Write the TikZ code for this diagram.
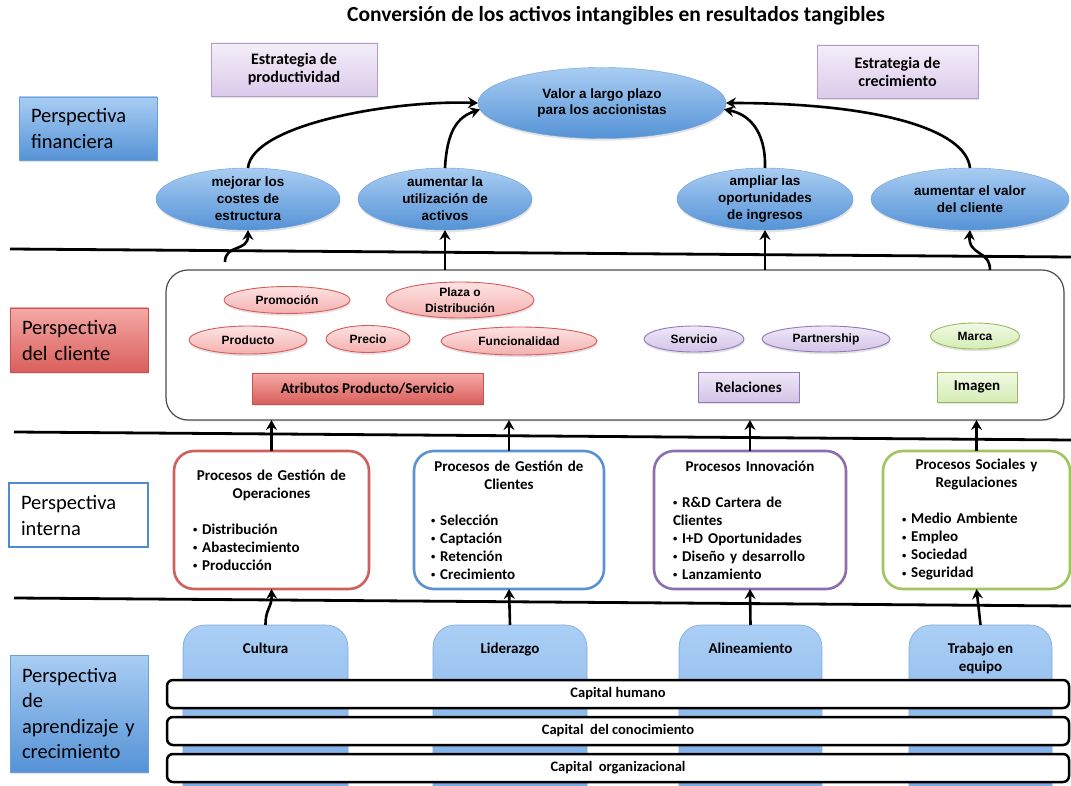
\documentclass[tikz,border=0pt]{standalone}
\usepackage{fontspec}
\setmainfont{Carlito}
\newfontfamily\arialfont{Liberation Sans}
\usetikzlibrary{shapes.geometric,arrows.meta,shadows}

\definecolor{ellTop}{HTML}{A9CDF3}
\definecolor{ellBot}{HTML}{5593D6}
\definecolor{ellLine}{HTML}{6C9FD8}
\definecolor{redTop}{HTML}{F5A9A6}
\definecolor{redBot}{HTML}{D95F5B}
\definecolor{redLine}{HTML}{C9514D}
\definecolor{pinkTop}{HTML}{FDE2E2}
\definecolor{pinkBot}{HTML}{F4B1B0}
\definecolor{pinkLine}{HTML}{D65C59}
\definecolor{violTop}{HTML}{EFE8F7}
\definecolor{violBot}{HTML}{D3C3E7}
\definecolor{violLine}{HTML}{9279B8}
\definecolor{grnTop}{HTML}{F1F9E6}
\definecolor{grnBot}{HTML}{D4EDB3}
\definecolor{grnLine}{HTML}{9BBB59}
\definecolor{stratTop}{HTML}{F4EEF9}
\definecolor{stratBot}{HTML}{DBCAEA}
\definecolor{stratLine}{HTML}{B39BCB}
\definecolor{procRed}{HTML}{D0605C}
\definecolor{procBlue}{HTML}{5B93D2}
\definecolor{procViol}{HTML}{8C6DB0}
\definecolor{procGrn}{HTML}{9FC55F}
\definecolor{learnTop}{HTML}{ABCFF5}
\definecolor{learnBot}{HTML}{6EA4E1}
\definecolor{learnLine}{HTML}{7DA9DD}
\definecolor{intLine}{HTML}{4F8BCF}

% small list bullet used inside the process boxes
\newcommand{\itembul}{\raisebox{1.6pt}{\fontsize{8.5}{8.5}\selectfont•}\ }

\begin{document}
\begin{tikzpicture}[x=1pt,y=1pt,
  every node/.style={inner sep=0pt, outer sep=0pt},
  softshadow/.style={drop shadow={opacity=0.22, shadow xshift=0.6pt, shadow yshift=-2.2pt}},
  conn/.style={line width=2.6pt, -{Stealth[length=10pt,width=11pt,inset=3.5pt]}},
  sepline/.style={line width=2.8pt},
  ellfont/.style={font=\arialfont\bfseries\fontsize{13.5}{17}\selectfont},
  smallell/.style={font=\arialfont\bfseries\fontsize{12}{16}\selectfont},
  blueell/.style={ellipse, softshadow, top color=ellTop, bottom color=ellBot, draw=ellLine,
    line width=0.4pt, ellfont, align=center, inner sep=-4pt},
  pinkell/.style={ellipse, softshadow, top color=pinkTop, bottom color=pinkBot, draw=pinkLine,
    line width=0.9pt, smallell, align=center, inner sep=-4pt},
  violell/.style={ellipse, softshadow, top color=violTop, bottom color=violBot, draw=violLine,
    line width=0.9pt, smallell, align=center, inner sep=-4pt},
  grnell/.style={ellipse, softshadow, top color=grnTop, bottom color=grnBot, draw=grnLine,
    line width=0.9pt, smallell, align=center, inner sep=-4pt},
  stratbox/.style={rectangle, softshadow, top color=stratTop, bottom color=stratBot, draw=stratLine,
    line width=0.8pt, align=center, font=\bfseries\fontsize{16}{18}\selectfont},
  persp/.style={rectangle, softshadow, align=left, inner xsep=12pt,
    font=\fontsize{20.5}{26}\selectfont},
  blueface/.style={top color=ellTop, bottom color=ellBot, draw=ellLine, line width=0.4pt},
  redface/.style={top color=redTop, bottom color=redBot, draw=redLine, line width=0.5pt},
  attrbox/.style={rectangle, softshadow, line width=0.7pt, align=center,
    font=\bfseries\fontsize{15}{18}\selectfont},
  procbox/.style={rectangle, rounded corners=20pt, fill=white, line width=2.6pt, align=left,
    font=\bfseries\fontsize{15}{18}\selectfont, minimum height=138pt},
  learnbox/.style={rectangle, rounded corners=22pt, top color=learnTop, bottom color=learnBot,
    draw=learnLine, line width=0.6pt, minimum height=200pt, anchor=north},
  learntext/.style={anchor=north, align=center, font=\bfseries\fontsize{15}{18}\selectfont},
  capbar/.style={rectangle, rounded corners=6pt, fill=white, draw=black, line width=2.5pt,
    minimum width=902pt, minimum height=28pt, font=\bfseries\fontsize{14.5}{17}\selectfont}
]
\clip (0,0) rectangle (1071,-786);
\fill[white] (0,0) rectangle (1071,-786);

% title
\node[font=\bfseries\fontsize{21.5}{24}\selectfont] (title) at (616,-16)
  {Conversión de los activos intangibles en resultados tangibles};

% level separators
\draw[sepline] (10,-249) -- (1071,-257);
\draw[sepline] (14,-432) -- (1071,-440);
\draw[sepline] (14,-598) -- (1071,-606);

% perspective labels
\node[persp, blueface, minimum width=138pt, minimum height=63pt, text width=114pt] (pfin) at (88,-128.5)
  {Perspectiva\\financiera};
\node[persp, redface, minimum width=138pt, minimum height=64pt, text width=114pt] (pcli) at (79,-340)
  {Perspectiva\\del cliente};
\node[rectangle, align=left, inner xsep=12pt, font=\fontsize{20.5}{26}\selectfont,
  fill=white, draw=intLine, line width=2.6pt, minimum width=139pt, minimum height=64pt,
  text width=115pt] (pint) at (78.5,-515)
  {Perspectiva\\interna};
\node[persp, blueface, minimum width=138pt, minimum height=117pt, text width=114pt,
  font=\fontsize{20.5}{25.5}\selectfont] (papr) at (79,-713.5)
  {Perspectiva\\de\\aprendizaje y\\crecimiento};

% strategies
\node[stratbox, minimum width=166pt, minimum height=53pt] (eprod) at (294,-69.5)
  {Estrategia de\\productividad};
\node[stratbox, minimum width=161pt, minimum height=53pt] (ecrec) at (897.5,-71.5)
  {Estrategia de\\crecimiento};

% financial objectives
\node[blueell, minimum width=248pt, minimum height=71pt] (valor) at (602,-103)
  {\raisebox{-3pt}{\shortstack{Valor a largo plazo\\[1pt]para los accionistas}}};
\node[blueell, minimum width=184pt, minimum height=62pt] (mej) at (248,-199)
  {mejorar los\\costes de\\estructura};
\node[blueell, minimum width=174pt, minimum height=62pt] (util) at (445,-199)
  {aumentar la\\utilización de\\activos};
\node[blueell, minimum width=176pt, minimum height=62pt] (ampl) at (765,-199)
  {ampliar las\\oportunidades\\de ingresos};
\node[blueell, minimum width=198pt, minimum height=62pt] (aumval) at (970,-199)
  {aumentar el valor\\del cliente};

% customer perspective
\node[rectangle, rounded corners=22pt, fill=white, draw=black!70, line width=1.2pt,
  drop shadow={opacity=0.15, shadow xshift=0.6pt, shadow yshift=-1.5pt},
  minimum width=898pt, minimum height=150pt] (client) at (615,-345) {};

\node[pinkell, minimum width=126pt, minimum height=27pt] (promo) at (287,-300) {Promoción};
\node[pinkell, minimum width=148pt, minimum height=36pt] (plaza) at (460,-300) {Plaza o\\Distribución};
\node[pinkell, minimum width=118pt, minimum height=28pt] (prod) at (248,-340) {Producto};
\node[pinkell, minimum width=84pt, minimum height=27pt] (precio) at (368,-339) {Precio};
\node[pinkell, minimum width=156pt, minimum height=28pt] (func) at (519,-341) {Funcionalidad};
\node[violell, minimum width=100pt, minimum height=26pt] (serv) at (694,-339) {Servicio};
\node[violell, minimum width=128pt, minimum height=26pt] (partner) at (826,-339) {Partnership};
\node[grnell, minimum width=89pt, minimum height=26pt] (marca) at (975,-336) {Marca};

\node[attrbox, redface, minimum width=231pt, minimum height=31pt] (atrib) at (367.5,-388.5)
  {Atributos Producto/Servicio};
\node[attrbox, top color=violTop, bottom color=violBot, draw=violLine,
  minimum width=101pt, minimum height=30pt] (relac) at (748.5,-387) {Relaciones};
\node[attrbox, top color=grnTop, bottom color=grnBot, draw=grnLine,
  minimum width=80pt, minimum height=30pt] (imagen) at (977,-387) {Imagen};

% internal processes
\node[procbox, draw=procRed, minimum width=195pt, text width=157pt] (ops) at (271.5,-520)
  {\makebox[\linewidth]{Procesos de Gestión de}\\\makebox[\linewidth]{Operaciones}\\[18pt]%
   \itembul Distribución\\\itembul Abastecimiento\\\itembul Producción};
\node[procbox, draw=procBlue, minimum width=190pt, text width=156pt] (cli) at (509,-520)
  {\makebox[\linewidth]{Procesos de Gestión de}\\\makebox[\linewidth]{Clientes}\\[18pt]%
   \itembul Selección\\\itembul Captación\\\itembul Retención\\\itembul Crecimiento};
\node[procbox, draw=procViol, minimum width=192pt, text width=154pt] (innov) at (750,-520)
  {\makebox[\linewidth]{Procesos Innovación}\\[18pt]%
   \itembul R\&D Cartera de\\Clientes\\\itembul I+D Oportunidades\\\itembul Diseño y desarrollo\\\itembul Lanzamiento};
\node[procbox, draw=procGrn, minimum width=187pt, text width=149pt] (soc) at (976.5,-520)
  {\makebox[\linewidth]{Procesos Sociales y}\\\makebox[\linewidth]{Regulaciones}\\[18pt]%
   \itembul Medio Ambiente\\\itembul Empleo\\\itembul Sociedad\\\itembul Seguridad};

% learning and growth
\node[learnbox, minimum width=165pt] (cult) at (265.5,-625) {};
\node[learnbox, minimum width=154pt] (lider) at (510,-625) {};
\node[learnbox, minimum width=143pt] (alin) at (750.5,-625) {};
\node[learnbox, minimum width=143pt] (trab) at (980.5,-625) {};
\node[learntext, yshift=-18pt] (cultT) at (cult.north) {Cultura};
\node[learntext, yshift=-18pt] (liderT) at (lider.north) {Liderazgo};
\node[learntext, yshift=-18pt] (alinT) at (alin.north) {Alineamiento};
\node[learntext, yshift=-18pt] (trabT) at (trab.north) {Trabajo en\\equipo};

\node[capbar] (hum) at (618,-694) {Capital humano};
\node[capbar] (con) at (618,-731) {Capital\ \ del conocimiento};
\node[capbar] (org) at (618,-768) {Capital\ \ organizacional};

% connectors: financial objectives to shareholder value
\draw[conn] (mej.north) .. controls (252,-125) and (390,-100) .. (valor.west);
\draw[conn] (util.north) .. controls (447,-130) and (458,-117) .. (valor.183);
\draw[conn] (ampl.north) .. controls (766,-130) and (748,-114) .. (valor.357);
\draw[conn] (aumval.north) .. controls (966,-130) and (880,-103) .. (valor.east);

% connectors: customer perspective to financial objectives
\coordinate (mejFoot) at (225,-262);
\coordinate (aumFoot) at (990,-270);
\draw[conn] (mejFoot) .. controls (225,-244) and (248,-252) .. (mej.south);
\draw[conn] (util.south |- client.north) -- (util.south);
\draw[conn] (ampl.south |- client.north) -- (ampl.south);
\draw[conn] (aumFoot) .. controls (990,-250) and (968,-256) .. (aumval.south);

% connectors: processes to customer perspective
\draw[conn] (ops.north) -- (ops.north |- client.south);
\draw[conn] (cli.north) -- (cli.north |- client.south);
\draw[conn] (innov.north) -- (innov.north |- client.south);
\draw[conn] (soc.north) -- (soc.north |- client.south);

% connectors: learning and growth to processes
\draw[conn] (cult.north) .. controls (265.5,-608) and (272,-608) .. (ops.south);
\draw[conn] (lider.north) -- (cli.south);
\draw[conn] (alin.north) -- (innov.south);
\draw[conn] (trab.north) -- (soc.south);
\end{tikzpicture}
\end{document}
